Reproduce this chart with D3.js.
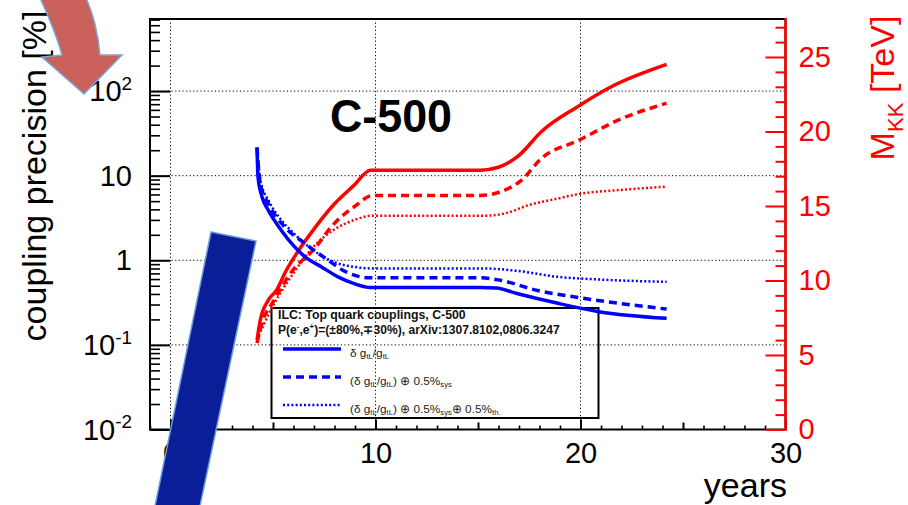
<!DOCTYPE html>
<html>
<head>
<meta charset="utf-8">
<script src="https://cdnjs.cloudflare.com/ajax/libs/d3/7.8.5/d3.min.js"></script>
<style>
  body { margin: 0; background: #fff; }
  text { font-family: "Liberation Sans", Arial, sans-serif; }
</style>
</head>
<body>
<script>
// ---- data ----
// M_KK [TeV] (right axis) vs years
const redSolidYears = [4.22, 4.38, 4.78, 5.18, 5.58, 6.17, 6.97, 7.97, 8.96, 9.76, 15.1, 16.0, 17.0, 18.1, 19.9, 21.5, 24.2];
const redSolidMkk   = [6.0, 7.35, 8.7, 9.36, 10.5, 11.85, 13.4, 15.1, 16.4, 17.4, 17.4, 17.6, 18.4, 20.0, 21.7, 23.0, 24.5];
const redDashYears  = [4.22, 4.5, 4.98, 5.97, 6.97, 7.97, 8.96, 9.86, 15.1, 16.1, 17.1, 18.1, 19.9, 21.9, 24.2];
const redDashMkk    = [5.8, 7.3, 8.5, 10.7, 12.05, 13.8, 14.95, 15.7, 15.7, 15.96, 16.7, 18.2, 19.4, 20.8, 21.9];
const redDotYears   = [4.3, 5.0, 6.0, 7.0, 7.97, 8.96, 9.86, 15.3, 16.3, 17.5, 18.9, 19.9, 21.9, 24.2];
const redDotMkk     = [6.3, 8.3, 10.5, 12.3, 13.4, 14.06, 14.35, 14.35, 14.5, 15.07, 15.5, 15.8, 16.07, 16.3];

// coupling precision [%] (left axis, log) vs years
const blueSolidYears = [4.22, 4.27, 4.47, 4.78, 5.18, 5.78, 6.58, 7.37, 8.17, 8.96, 9.76, 15.1, 15.9, 16.9, 18.9, 20.9, 24.2];
const blueSolidPrec  = [21.5, 9.6, 5.56, 3.87, 2.7, 1.72, 1.09, 0.835, 0.637, 0.53, 0.477, 0.477, 0.47, 0.405, 0.31, 0.247, 0.206];
const blueDashYears  = [4.22, 4.38, 4.78, 5.58, 6.58, 7.57, 8.56, 9.76, 15.1, 16.1, 17.9, 19.9, 24.2];
const blueDashPrec   = [21.5, 7.98, 4.64, 2.47, 1.57, 1.05, 0.73, 0.62, 0.62, 0.58, 0.44, 0.363, 0.265];
const blueDotYears   = [4.22, 4.4, 4.8, 5.4, 6.0, 6.97, 7.97, 8.96, 9.86, 15.3, 16.9, 18.9, 20.9, 24.2];
const blueDotPrec    = [21.5, 8.5, 5.0, 3.0, 2.1, 1.31, 0.955, 0.835, 0.80, 0.80, 0.75, 0.637, 0.593, 0.556];

// tick labels
const xTickValues = [0, 10, 20, 30];
const leftTickValues = [0.01, 0.1, 1, 10, 100];
const leftTickBase = ["10", "10", "1", "10", "10"];
const leftTickExp = ["-2", "-1", "", "", "2"];
const rightTickValues = [0, 5, 10, 15, 20, 25];

const w = 908, h = 505;
const pLeft = 150, pRight = 785.5, pTop = 19, pBottom = 429.5;

const x = d3.scaleLinear().domain([-1, 30]).range([pLeft, pRight]);
const yL = d3.scaleLog().domain([0.01, 711]).range([pBottom, pTop]);
const yR = d3.scaleLinear().domain([0, 27.55]).range([pBottom, pTop]);

const svg = d3.select("body").append("svg")
  .attr("width", w)
  .attr("height", h);

// text with sub / superscripts
function rich(sel, parts, size) {
  let shift = 0;
  parts.forEach(p => {
    const kind = p[1];
    const target = kind === "sub" ? size * 0.25 : kind === "sup" ? -size * 0.38 : 0;
    sel.append("tspan")
      .attr("dy", target - shift)
      .attr("font-size", kind ? size * 0.65 : size)
      .text(p[0]);
    shift = target;
  });
}

// grid
const grid = svg.append("g").attr("stroke", "#000").attr("stroke-width", 1).attr("stroke-dasharray", "1.2,2.4");
[0.1, 1, 10, 100].forEach(v => {
  grid.append("line").attr("x1", pLeft).attr("x2", pRight).attr("y1", yL(v)).attr("y2", yL(v));
});
[0, 10, 20].forEach(v => {
  grid.append("line").attr("x1", x(v)).attr("x2", x(v)).attr("y1", pTop).attr("y2", pBottom);
});

// frame
svg.append("rect")
  .attr("x", pLeft).attr("y", pTop)
  .attr("width", pRight - pLeft).attr("height", pBottom - pTop)
  .attr("fill", "none").attr("stroke", "#000").attr("stroke-width", 2);

// left axis (ticks inside)
const leftMinor = [];
leftTickValues.forEach(d => { for (let k = 2; k <= 9; k++) if (d * k < 711) leftMinor.push(d * k); });
svg.append("g").attr("transform", `translate(${pLeft},0)`)
  .call(d3.axisLeft(yL).tickValues(leftTickValues).tickSize(-20).tickFormat(""))
  .call(g => g.select(".domain").remove())
  .call(g => g.selectAll("line").attr("stroke-width", 2));
svg.append("g").attr("transform", `translate(${pLeft},0)`)
  .call(d3.axisLeft(yL).tickValues(leftMinor).tickSize(-10).tickFormat(""))
  .call(g => g.select(".domain").remove())
  .call(g => g.selectAll("line").attr("stroke-width", 1.6));

leftTickValues.forEach((v, i) => {
  const t = svg.append("text")
    .attr("x", 132).attr("y", yL(v) + 10)
    .attr("text-anchor", "end").attr("fill", "#000");
  const parts = [[leftTickBase[i]]];
  if (leftTickExp[i]) parts.push([leftTickExp[i], "sup"]);
  rich(t, parts, 29);
});

// bottom axis
svg.append("g").attr("transform", `translate(0,${pBottom})`)
  .call(d3.axisBottom(x).tickValues(xTickValues).tickSize(-10).tickPadding(13).tickFormat(d3.format("d")))
  .call(g => g.select(".domain").remove())
  .call(g => g.selectAll("line").attr("stroke-width", 2))
  .call(g => g.selectAll("text").attr("font-size", 29).attr("font-family", "Liberation Sans, Arial, sans-serif").attr("fill", "#000"));
svg.append("g").attr("transform", `translate(0,${pBottom})`)
  .call(d3.axisBottom(x).tickValues([5, 15, 25]).tickSize(-7).tickFormat(""))
  .call(g => g.select(".domain").remove())
  .call(g => g.selectAll("line").attr("stroke-width", 2));
svg.append("g").attr("transform", `translate(0,${pBottom})`)
  .call(d3.axisBottom(x).tickValues(d3.range(-1, 30).filter(v => v % 5 !== 0)).tickSize(-4).tickFormat(""))
  .call(g => g.select(".domain").remove())
  .call(g => g.selectAll("line").attr("stroke-width", 1.6));

// right axis (red)
svg.append("g").attr("transform", `translate(${pRight},0)`)
  .call(d3.axisRight(yR).tickValues(d3.range(1, 28).filter(v => v % 5 !== 0)).tickSize(-10).tickFormat(""))
  .call(g => g.select(".domain").remove())
  .call(g => g.selectAll("line").attr("stroke", "#f00").attr("stroke-width", 2));
svg.append("g").attr("transform", `translate(${pRight},0)`)
  .call(d3.axisRight(yR).tickValues(rightTickValues).tickSize(-20).tickPadding(13))
  .call(g => g.select(".domain").remove())
  .call(g => g.selectAll("line").attr("stroke", "#f00").attr("stroke-width", 2))
  .call(g => g.selectAll("text").attr("font-size", 29).attr("font-family", "Liberation Sans, Arial, sans-serif").attr("fill", "#f00"));
svg.append("line")
  .attr("x1", pRight).attr("x2", pRight).attr("y1", pTop - 1).attr("y2", pBottom + 1)
  .attr("stroke", "#f00").attr("stroke-width", 2.5);

// legend box
svg.append("rect")
  .attr("x", 271.5).attr("y", 308).attr("width", 327).attr("height", 110)
  .attr("fill", "none").attr("stroke", "#000").attr("stroke-width", 2);

svg.append("text").attr("x", 278).attr("y", 318.5)
  .attr("font-size", 12.3).attr("font-weight", "bold").attr("fill", "#111")
  .text("ILC: Top quark couplings, C-500");
rich(svg.append("text").attr("x", 278).attr("y", 333.5)
  .attr("font-weight", "bold").attr("fill", "#111"),
  [["P(e"], ["-", "sup"], [",e"], ["+", "sup"], [")=(±80%,∓30%), arXiv:1307.8102,0806.3247"]], 12.1);

const legendRows = [
  { dash: null, width: 3.5, parts: [["δ g"], ["tL", "sub"], ["/g"], ["tL", "sub"]] },
  { dash: "8,5", width: 3.5, parts: [["(δ g"], ["tL", "sub"], ["/g"], ["tL", "sub"], [") ⊕ 0.5%"], ["sys", "sub"]] },
  { dash: "2,2.2", width: 2.5, parts: [["(δ g"], ["tL", "sub"], ["/g"], ["tL", "sub"], [") ⊕ 0.5%"], ["sys", "sub"], ["⊕ 0.5%"], ["th.", "sub"]] }
];
legendRows.forEach((r, i) => {
  const ly = 349 + i * 28;
  svg.append("line").attr("x1", 283).attr("x2", 341).attr("y1", ly).attr("y2", ly)
    .attr("stroke", "#00f").attr("stroke-width", r.width).attr("stroke-dasharray", r.dash);
  rich(svg.append("text").attr("x", 350).attr("y", ly + 7.5).attr("fill", "#222"), r.parts, 11.8);
});

// curves
const lineR = d3.line().x(d => x(d[0])).y(d => yR(d[1])).curve(d3.curveMonotoneX);
const lineL = d3.line().x(d => x(d[0])).y(d => yL(d[1])).curve(d3.curveMonotoneX);

const series = [
  { pts: d3.zip(redSolidYears, redSolidMkk), gen: lineR, color: "#f00", dash: null, width: 3.5 },
  { pts: d3.zip(redDashYears, redDashMkk), gen: lineR, color: "#f00", dash: "8,5", width: 3.5 },
  { pts: d3.zip(redDotYears, redDotMkk), gen: lineR, color: "#f00", dash: "2,2.2", width: 2.5 },
  { pts: d3.zip(blueSolidYears, blueSolidPrec), gen: lineL, color: "#00f", dash: null, width: 3.5 },
  { pts: d3.zip(blueDashYears, blueDashPrec), gen: lineL, color: "#00f", dash: "8,5", width: 3.5 },
  { pts: d3.zip(blueDotYears, blueDotPrec), gen: lineL, color: "#00f", dash: "2,2.2", width: 2.5 }
];
series.forEach(s => {
  svg.append("path")
    .attr("d", s.gen(s.pts))
    .attr("fill", "none")
    .attr("stroke", s.color)
    .attr("stroke-width", s.width)
    .attr("stroke-dasharray", s.dash);
});

// labels
svg.append("text")
  .attr("x", 330).attr("y", 132)
  .attr("font-family", "Lato, sans-serif").attr("font-weight", 900)
  .attr("font-size", 47).attr("textLength", 122).attr("lengthAdjust", "spacingAndGlyphs")
  .text("C-500");

svg.append("text")
  .attr("transform", "translate(46,176) rotate(-90)")
  .attr("text-anchor", "middle").attr("font-size", 34)
  .text("coupling precision [%]");

rich(svg.append("text")
  .attr("transform", "translate(894,88) rotate(-90)")
  .attr("text-anchor", "middle").attr("fill", "#f00"),
  [["M"], ["KK", "sub"], [" [TeV]"]], 34);

svg.append("text")
  .attr("x", 787).attr("y", 497)
  .attr("text-anchor", "end").attr("font-size", 34)
  .text("years");

// overlaid slide shapes
svg.append("path")
  .attr("d", "M211,232 L256,241 L200,506 L155,506 Z")
  .attr("fill", "#0a1f97").attr("stroke", "#6d9ddc").attr("stroke-width", 1.5);

svg.append("path")
  .attr("d", "M40,-2 Q55,30 62,55 L42,57 L84,94 L122,55 L100,55 Q97,22 86,-2 Z")
  .attr("fill", "#c9615a").attr("stroke", "#7aa6d8").attr("stroke-width", 1.5);
</script>
</body>
</html>
